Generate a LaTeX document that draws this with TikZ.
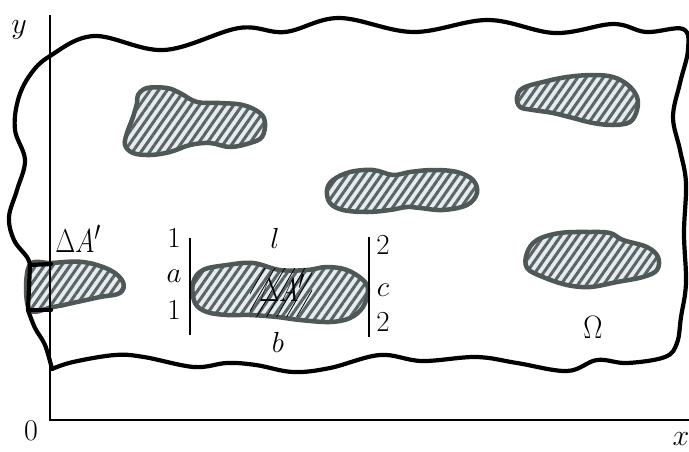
\documentclass[tikz,border=0pt]{standalone}
\usetikzlibrary{patterns.meta}
\definecolor{blobedge}{HTML}{4E5856}
\definecolor{blobfill}{HTML}{E6EBF2}
\definecolor{stripe}{HTML}{5A6462}
\newcommand{\lblsmall}[1]{\scalebox{1.4}{#1}}
\newcommand{\lblbig}[1]{\scalebox{1.04}[1.33]{#1}}
\newcommand{\lblaxis}[1]{\scalebox{1.45}{#1}}
\tikzset{
  blob/.style={draw=blobedge, line width=4.5pt, line join=round,
    preaction={fill=blobfill},
    pattern={Lines[angle=55,distance=7pt,line width=3pt]}, pattern color=stripe},
  outline/.style={draw=black, line width=4.2pt, line join=round, line cap=round},
  axis/.style={draw=black, line width=1.4pt},
  mark line/.style={draw=black, line width=1.3pt},
  lab/.style={inner sep=0pt, font=\fontsize{20.74}{24}\selectfont},
  biglab/.style={inner sep=0pt, font=\fontsize{24.88}{28}\selectfont},
  axlab/.style={inner sep=0pt, font=\fontsize{20.74}{24}\selectfont}
}
\begin{document}
\begin{tikzpicture}[x=1pt,y=-1pt]
\useasboundingbox (0,0) rectangle (689,451);
% left blob (cut by boundary)
\draw[blob] plot[smooth cycle, tension=0.6] coordinates {(29,266)(52,263)(83,262)(110,270)(123,282)(120,293)(100,297)(77,302)(53,307)(29,309)};
% domain outline
\draw[outline] (28,310) -- (30,265) -- plot[smooth, tension=0.6] coordinates {(30,265)(27,257)(14,240)(9,217)(17,190)(25,160)(15,130)(18,100)(30,75)(50,56)(94,36)(164,50)(239,28)(285,32)(339,18)(413,32)(488,20)(555,33)(613,24)(646,32)(683,29)(688,50)(680,83)(673,117)(680,150)(686,183)(684,233)(686,283)(681,317)(677,343)(665,357)(627,363)(597,360)(567,371)(517,363)(476,357)(422,361)(380,355)(330,368)(293,372)(256,365)(227,363)(194,367)(144,357)(115,355)(73,362)(52,369)}
  -- plot[smooth, tension=0.6] coordinates {(52,369)(45,345)(35,328)(28,310)};
\draw[outline] (30,265) -- (51,264);
\draw[outline] (28,310) -- (51,310);
% blobs
\draw[blob] plot[smooth cycle, tension=0.6] coordinates {(138,95)(147,88)(167,88)(180,93)(197,102)(220,103)(243,105)(260,113)(265,123)(262,137)(250,143)(230,147)(210,143)(190,145)(170,152)(150,155)(133,153)(125,145)(127,133)(133,117)(137,103)};
\draw[blob] plot[smooth cycle, tension=0.6] coordinates {(333,180)(350,172)(373,170)(393,175)(410,172)(433,170)(457,172)(473,180)(477,193)(467,205)(443,210)(420,208)(407,207)(390,210)(367,212)(343,210)(330,203)(327,190)};
\draw[blob] plot[smooth cycle, tension=0.6] coordinates {(517,97)(523,88)(543,82)(567,77)(593,75)(613,77)(628,85)(637,97)(637,110)(630,122)(613,125)(593,123)(573,118)(553,113)(533,110)(520,107)};
\draw[blob] plot[smooth cycle, tension=0.6] coordinates {(527,253)(537,240)(560,233)(590,232)(610,233)(623,240)(647,247)(658,257)(657,270)(643,277)(617,282)(590,287)(567,285)(543,277)(527,268)};
\draw[blob] plot[smooth cycle, tension=0.6] coordinates {(193,283)(203,270)(227,265)(253,263)(280,270)(307,270)(327,267)(347,270)(363,280)(368,290)(363,307)(350,318)(330,322)(300,320)(277,317)(250,315)(227,315)(207,312)(195,303)};
% thin black hatching around the central label
\begin{scope}
  \clip (250,268) rectangle (312,316);
  \foreach \k in {0,...,6} {
    \draw[black, line width=0.8pt] (236+10*\k,318) -- (266+10*\k,266);
  }
\end{scope}
% axes
\draw[axis] (50,15) -- (50,420) -- (689,420);
% marker lines
\draw[mark line] (190,238) -- (190,335);
\draw[mark line] (369,237) -- (369,337);
% labels
\node[axlab] (ylab) at (19,30) {\lblaxis{$y$}};
\node[axlab] (zero) at (31,431) {\lblaxis{$0$}};
\node[axlab] (xlab) at (681,439) {\lblaxis{$x$}};
\node[biglab] (dAl) at (78,239) {\lblbig{$\Delta A'$}};
\node[biglab] (dAc) at (282,288) {\lblbig{$\Delta A'$}};
\node[biglab] (omega) at (593,327) {\scalebox{1.15}[1.3]{$\Omega$}};
\node[lab] (one1) at (174,238) {\lblsmall{$1$}};
\node[lab] (alab) at (174,276) {\lblsmall{$a$}};
\node[lab] (one2) at (174,310) {\lblsmall{$1$}};
\node[lab] (llab) at (275,238) {\lblsmall{$l$}};
\node[lab] (blab) at (278,342) {\lblsmall{$b$}};
\node[lab] (two1) at (383,245) {\lblsmall{$2$}};
\node[lab] (clab) at (383,290) {\lblsmall{$c$}};
\node[lab] (two2) at (383,322) {\lblsmall{$2$}};
\end{tikzpicture}
\end{document}
